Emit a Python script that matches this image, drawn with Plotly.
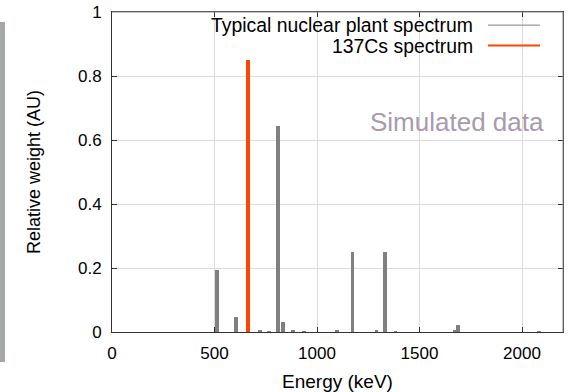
import plotly.graph_objects as go

# ---- data ----
plant_energy_kev = [511, 604, 724, 767, 811, 835, 885, 935, 1098, 1173, 1290, 1332, 1383, 1671, 1689, 2085]
plant_weight = [0.195, 0.048, 0.005, 0.003, 0.643, 0.030, 0.007, 0.003, 0.005, 0.250, 0.005, 0.250, 0.003, 0.007, 0.022, 0.003]
cs_energy_kev = [662]
cs_weight = [0.851]

x_ticks = [0, 500, 1000, 1500, 2000]
y_ticks = [0, 0.2, 0.4, 0.6, 0.8, 1]
y_tick_labels = ["0", "0.2", "0.4", "0.6", "0.8", "1"]

legend_names = ["Typical nuclear plant spectrum", "137Cs spectrum"]
GRAY = "#808080"
RED = "#ff4500"
FONT = "Liberation Sans, Arial, sans-serif"

fig = go.Figure()
fig.add_trace(go.Bar(x=plant_energy_kev, y=plant_weight, width=19,
                     marker=dict(color=GRAY, line=dict(width=0)),
                     name=legend_names[0], showlegend=False))
fig.add_trace(go.Bar(x=cs_energy_kev, y=cs_weight, width=19,
                     marker=dict(color=RED, line=dict(width=0)),
                     name=legend_names[1], showlegend=False))

axis_common = dict(showline=True, linecolor="#333333", linewidth=1, mirror="ticks",
                   ticks="inside", ticklen=5, tickcolor="#333333",
                   showgrid=True, gridcolor="#dcdcdc", gridwidth=1, zeroline=False,
                   automargin=False,
                   tickfont=dict(family=FONT, size=17, color="black"))

fig.update_layout(
    width=568, height=392,
    margin=dict(l=112, r=5, t=12, b=60),
    paper_bgcolor="white", plot_bgcolor="white",
    barmode="overlay", bargap=0,
    font=dict(family=FONT, color="black"),
    xaxis=dict(range=[0, 2200], tickvals=x_ticks, ticklabelstandoff=6,
               title=dict(text="Energy (keV)", font=dict(family=FONT, size=19), standoff=13),
               **axis_common),
    yaxis=dict(range=[0, 1], tickvals=y_ticks, ticktext=y_tick_labels,
               ticklabelstandoff=6,
               title=dict(text="Relative weight (AU)", font=dict(family=FONT, size=18), standoff=32),
               **axis_common),
)

shapes = [
    # white legend box covering the grid
    dict(type="rect", xref="paper", yref="paper", x0=0.206, x1=1, y0=0.8625, y1=1,
         fillcolor="white", line=dict(width=0), layer="between"),
    # lighter top and right frame lines
    dict(type="line", xref="paper", yref="paper", x0=0, x1=1, y0=1, y1=1,
         line=dict(color="#8a8a8a", width=1), layer="above"),
    dict(type="line", xref="paper", yref="paper", x0=1, x1=1, y0=0, y1=1,
         line=dict(color="#8a8a8a", width=1), layer="above"),
    # legend line samples
    dict(type="line", xref="paper", yref="paper", x0=0.8337, x1=0.949, y0=0.959, y1=0.959,
         line=dict(color=GRAY, width=1), layer="above"),
    dict(type="line", xref="paper", yref="paper", x0=0.8337, x1=0.949, y0=0.895, y1=0.895,
         line=dict(color=RED, width=2), layer="above"),
    # gray strip at the left edge
    dict(type="rect", xref="paper", yref="paper", x0=-0.2483, x1=-0.2373, y0=-0.094, y1=0.969,
         fillcolor="#a4a8a4", line=dict(width=0), layer="above"),
]
fig.update_layout(shapes=shapes)

annotations = [
    dict(text=legend_names[0], xref="paper", yref="paper", x=0.8049, y=0.959,
         xanchor="right", yanchor="middle", showarrow=False,
         font=dict(family=FONT, size=19.4, color="black")),
    dict(text=legend_names[1], xref="paper", yref="paper", x=0.8049, y=0.895,
         xanchor="right", yanchor="middle", showarrow=False,
         font=dict(family=FONT, size=19.4, color="black")),
    dict(text="Simulated data", xref="paper", yref="paper", x=0.7645, y=0.657,
         xanchor="center", yanchor="middle", showarrow=False,
         font=dict(family=FONT, size=26, color="#a89aab")),
]
fig.update_layout(annotations=annotations)

fig.write_html("out.html", config={"displayModeBar": False},
               post_script="document.body.style.margin='0px';")
